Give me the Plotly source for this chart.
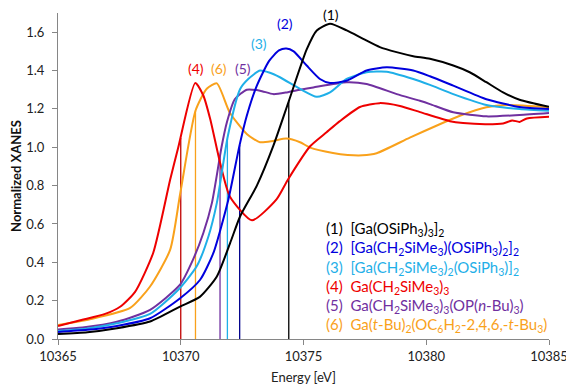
import numpy as np
import plotly.graph_objects as go

# ---- data ----
e1 = [10365.0, 10366.2, 10367.4, 10368.75, 10369.97, 10370.79, 10371.47, 10372.01, 10372.42,
      10373.1, 10373.77, 10374.4, 10375.13, 10375.54, 10376.08, 10376.76,
      10377.43, 10378.11, 10378.79, 10379.47, 10380.15, 10381.1, 10381.77, 10382.45, 10383.13, 10383.8, 10385.0]
v1 = [0.026, 0.035, 0.056, 0.091, 0.169, 0.221, 0.326, 0.50, 0.64,
      0.80, 1.007, 1.24, 1.51, 1.609, 1.644, 1.609,
      1.565, 1.522, 1.496, 1.475, 1.461, 1.426, 1.391, 1.339, 1.286, 1.248, 1.211]

e2 = [10365.0, 10366.2, 10367.4, 10368.75, 10369.95, 10370.79, 10371.33, 10371.94,
      10372.39, 10372.69, 10373.1, 10373.6, 10374.0, 10374.3, 10374.6, 10375.13, 10375.67, 10376.08,
      10376.76, 10377.57, 10378.39, 10379.47, 10380.15, 10381.1, 10382.45, 10383.8, 10385.0]
v2 = [0.037, 0.048, 0.068, 0.108, 0.21, 0.309, 0.449, 0.728,
      1.007, 1.164, 1.321, 1.45, 1.505, 1.515, 1.50, 1.426, 1.356, 1.335,
      1.347, 1.40, 1.417, 1.40, 1.37, 1.321, 1.25, 1.21, 1.199]

e3 = [10365.0, 10366.2, 10367.4, 10368.75, 10369.9, 10370.65, 10371.13, 10371.47, 10371.92,
      10372.42, 10372.75, 10373.23, 10373.6, 10374.04, 10374.86, 10375.54, 10376.08, 10376.76,
      10377.57, 10378.39, 10379.47, 10380.15, 10381.1, 10382.45, 10383.8, 10385.0]
v3 = [0.042, 0.055, 0.082, 0.131, 0.257, 0.379, 0.536, 0.71, 1.06,
      1.304, 1.356, 1.40, 1.39, 1.365, 1.304, 1.263, 1.286, 1.356,
      1.391, 1.394, 1.356, 1.325, 1.277, 1.22, 1.199, 1.19]

e4 = [10365.0, 10365.95, 10366.92, 10367.53, 10368.14, 10368.88, 10369.57, 10369.9,
      10370.59, 10370.92, 10371.2, 10371.6, 10372.0, 10372.9, 10373.9, 10374.37,
      10375.27, 10375.94, 10376.48, 10377.3, 10378.1, 10378.93, 10379.75, 10380.96, 10381.5,
      10382.4, 10383.13, 10383.5, 10383.8, 10384.1, 10385.0]
v4 = [0.068, 0.099, 0.131, 0.168, 0.246, 0.45, 0.832, 1.0,
      1.335, 1.27, 1.147, 0.92, 0.743, 0.619, 0.728, 0.832,
      1.005, 1.078, 1.136, 1.21, 1.23, 1.215, 1.183, 1.136, 1.126,
      1.12, 1.124, 1.14, 1.132, 1.15, 1.159]

e5 = [10365.0, 10366.0, 10367.4, 10368.75, 10369.97, 10370.5, 10370.92, 10371.27, 10371.66,
      10371.88, 10372.2, 10372.69, 10373.23, 10373.77, 10374.32, 10374.86, 10375.4, 10376.76, 10377.57,
      10378.8, 10379.74, 10380.15, 10381.1, 10382.45, 10383.8, 10385.0]
v5 = [0.05, 0.06, 0.09, 0.152, 0.283, 0.414, 0.553, 0.71, 1.0,
      1.13, 1.25, 1.30, 1.295, 1.277, 1.286, 1.30, 1.312, 1.339, 1.33,
      1.277, 1.242, 1.225, 1.182, 1.161, 1.168, 1.178]

e6 = [10365.0, 10366.3, 10367.94, 10368.75, 10369.57, 10369.98, 10370.6, 10371.06, 10371.47,
      10372.0, 10372.7, 10373.23, 10373.77, 10374.3, 10374.86, 10375.27, 10376.2, 10376.8,
      10377.4, 10377.98, 10379.33, 10380.55, 10381.37, 10382.45, 10383.27, 10385.0]
v6 = [0.073, 0.103, 0.162, 0.274, 0.466, 0.76, 1.19, 1.305, 1.333,
      1.18, 1.068, 1.026, 1.033, 1.045, 1.026, 0.998, 0.97, 0.96,
      0.958, 0.969, 1.05, 1.12, 1.164, 1.208, 1.22, 1.208]

edge_energies = [10374.4, 10372.4, 10371.9, 10370.0, 10371.6, 10370.6]
peak_labels = ["(1)", "(2)", "(3)", "(4)", "(5)", "(6)"]
peak_label_x = [10376.12, 10374.25, 10373.2, 10370.63, 10372.53, 10371.55]
peak_label_y = [1.69, 1.645, 1.54, 1.41, 1.41, 1.41]
legend_names = [
    "(1)  [Ga(OSiPh<sub>3</sub>)<sub>3</sub>]<sub>2</sub>",
    "(2)  [Ga(CH<sub>2</sub>SiMe<sub>3</sub>)(OSiPh<sub>3</sub>)<sub>2</sub>]<sub>2</sub>",
    "(3)  [Ga(CH<sub>2</sub>SiMe<sub>3</sub>)<sub>2</sub>(OSiPh<sub>3</sub>)]<sub>2</sub>",
    "(4)  Ga(CH<sub>2</sub>SiMe<sub>3</sub>)<sub>3</sub>",
    "(5)  Ga(CH<sub>2</sub>SiMe<sub>3</sub>)<sub>3</sub>(OP(<i>n</i>-Bu)<sub>3</sub>)",
    "(6)  Ga(<i>t</i>-Bu)<sub>2</sub>(OC<sub>6</sub>H<sub>2</sub>-2,4,6,-<i>t</i>-Bu<sub>3</sub>)",
]
x_ticks = [10365, 10370, 10375, 10380, 10385]
y_ticks = [0.0, 0.2, 0.4, 0.6, 0.8, 1.0, 1.2, 1.4, 1.6]

# ---- styles ----
colors = ["#000000", "#0000DD", "#1FAFE8", "#EE0000", "#7030A0", "#F9A11B"]
vline_colors = ["#000000", "#00008B", "#1FAFE8", "#C00000", "#7030A0", "#F9A11B"]
FONT = "Lato, 'Open Sans', sans-serif"

# page body has an 8px default margin: size/margins compensate so the plot area
# lands at x 58..549, y 13..339 in the 574x390 window
W, H = 566, 382
ML, MR, MT, MB = 50, 25, 5, 51
PW, PH = W - ML - MR, H - MT - MB

series = [(e1, v1), (e2, v2), (e3, v3), (e4, v4), (e5, v5), (e6, v6)]

fig = go.Figure()
for i, (e, v) in enumerate(series):
    h = float(np.interp(edge_energies[i], e, v))
    fig.add_trace(go.Scatter(x=[edge_energies[i], edge_energies[i]], y=[0, h], mode="lines",
                             line=dict(color=vline_colors[i], width=1.3), hoverinfo="skip",
                             showlegend=False))
for i in [5, 4, 3, 2, 1, 0]:
    e, v = series[i]
    fig.add_trace(go.Scatter(x=e, y=v, mode="lines",
                             line=dict(color=colors[i], width=2, shape="spline", smoothing=0.6),
                             showlegend=False))

for i in range(6):
    fig.add_annotation(x=peak_label_x[i], y=peak_label_y[i], text=peak_labels[i], showarrow=False,
                       xanchor="center", yanchor="middle",
                       font=dict(family=FONT, size=14, color=colors[i]))

# legend as coloured text lines (page px -> paper coords)
leg_x_px, leg_y0_px, leg_dy = 324, 229.3, 19.1
for i in range(6):
    px = leg_x_px - 8 - ML
    py = leg_y0_px + leg_dy * i - 8 - MT
    fig.add_annotation(xref="paper", yref="paper",
                       x=px / PW, y=1 - py / PH,
                       text=legend_names[i], showarrow=False, xanchor="left", yanchor="middle",
                       font=dict(family=FONT, size=15, color=colors[i]))

fig.update_layout(
    width=W, height=H,
    margin=dict(l=ML, r=MR, t=MT, b=MB, autoexpand=False),
    paper_bgcolor="white", plot_bgcolor="white",
    font=dict(family=FONT, size=13, color="#222222"),
    xaxis=dict(range=[10365, 10385], tickvals=x_ticks, ticktext=[str(t) for t in x_ticks],
               showgrid=False, zeroline=False, showline=True, linecolor="#868686", linewidth=1,
               ticks="outside", ticklen=5, tickcolor="#868686", automargin=False,
               tickfont=dict(family=FONT, size=13, color="#222222"),
               title=dict(text="Energy [eV]", font=dict(family=FONT, size=13, color="#222222"), standoff=10)),
    yaxis=dict(range=[0, 1.7], tickvals=y_ticks, ticktext=[f"{t:.1f}" for t in y_ticks],
               showgrid=False, zeroline=False, showline=True, linecolor="#868686", linewidth=1,
               ticks="outside", ticklen=5, tickcolor="#868686", automargin=False,
               ticklabelstandoff=5,
               tickfont=dict(family=FONT, size=13, color="#222222"),
               title=dict(text="<b>Normalized XANES</b>", font=dict(family=FONT, size=13, color="#111111"), standoff=10)),
)

fig.write_html("out.html")
